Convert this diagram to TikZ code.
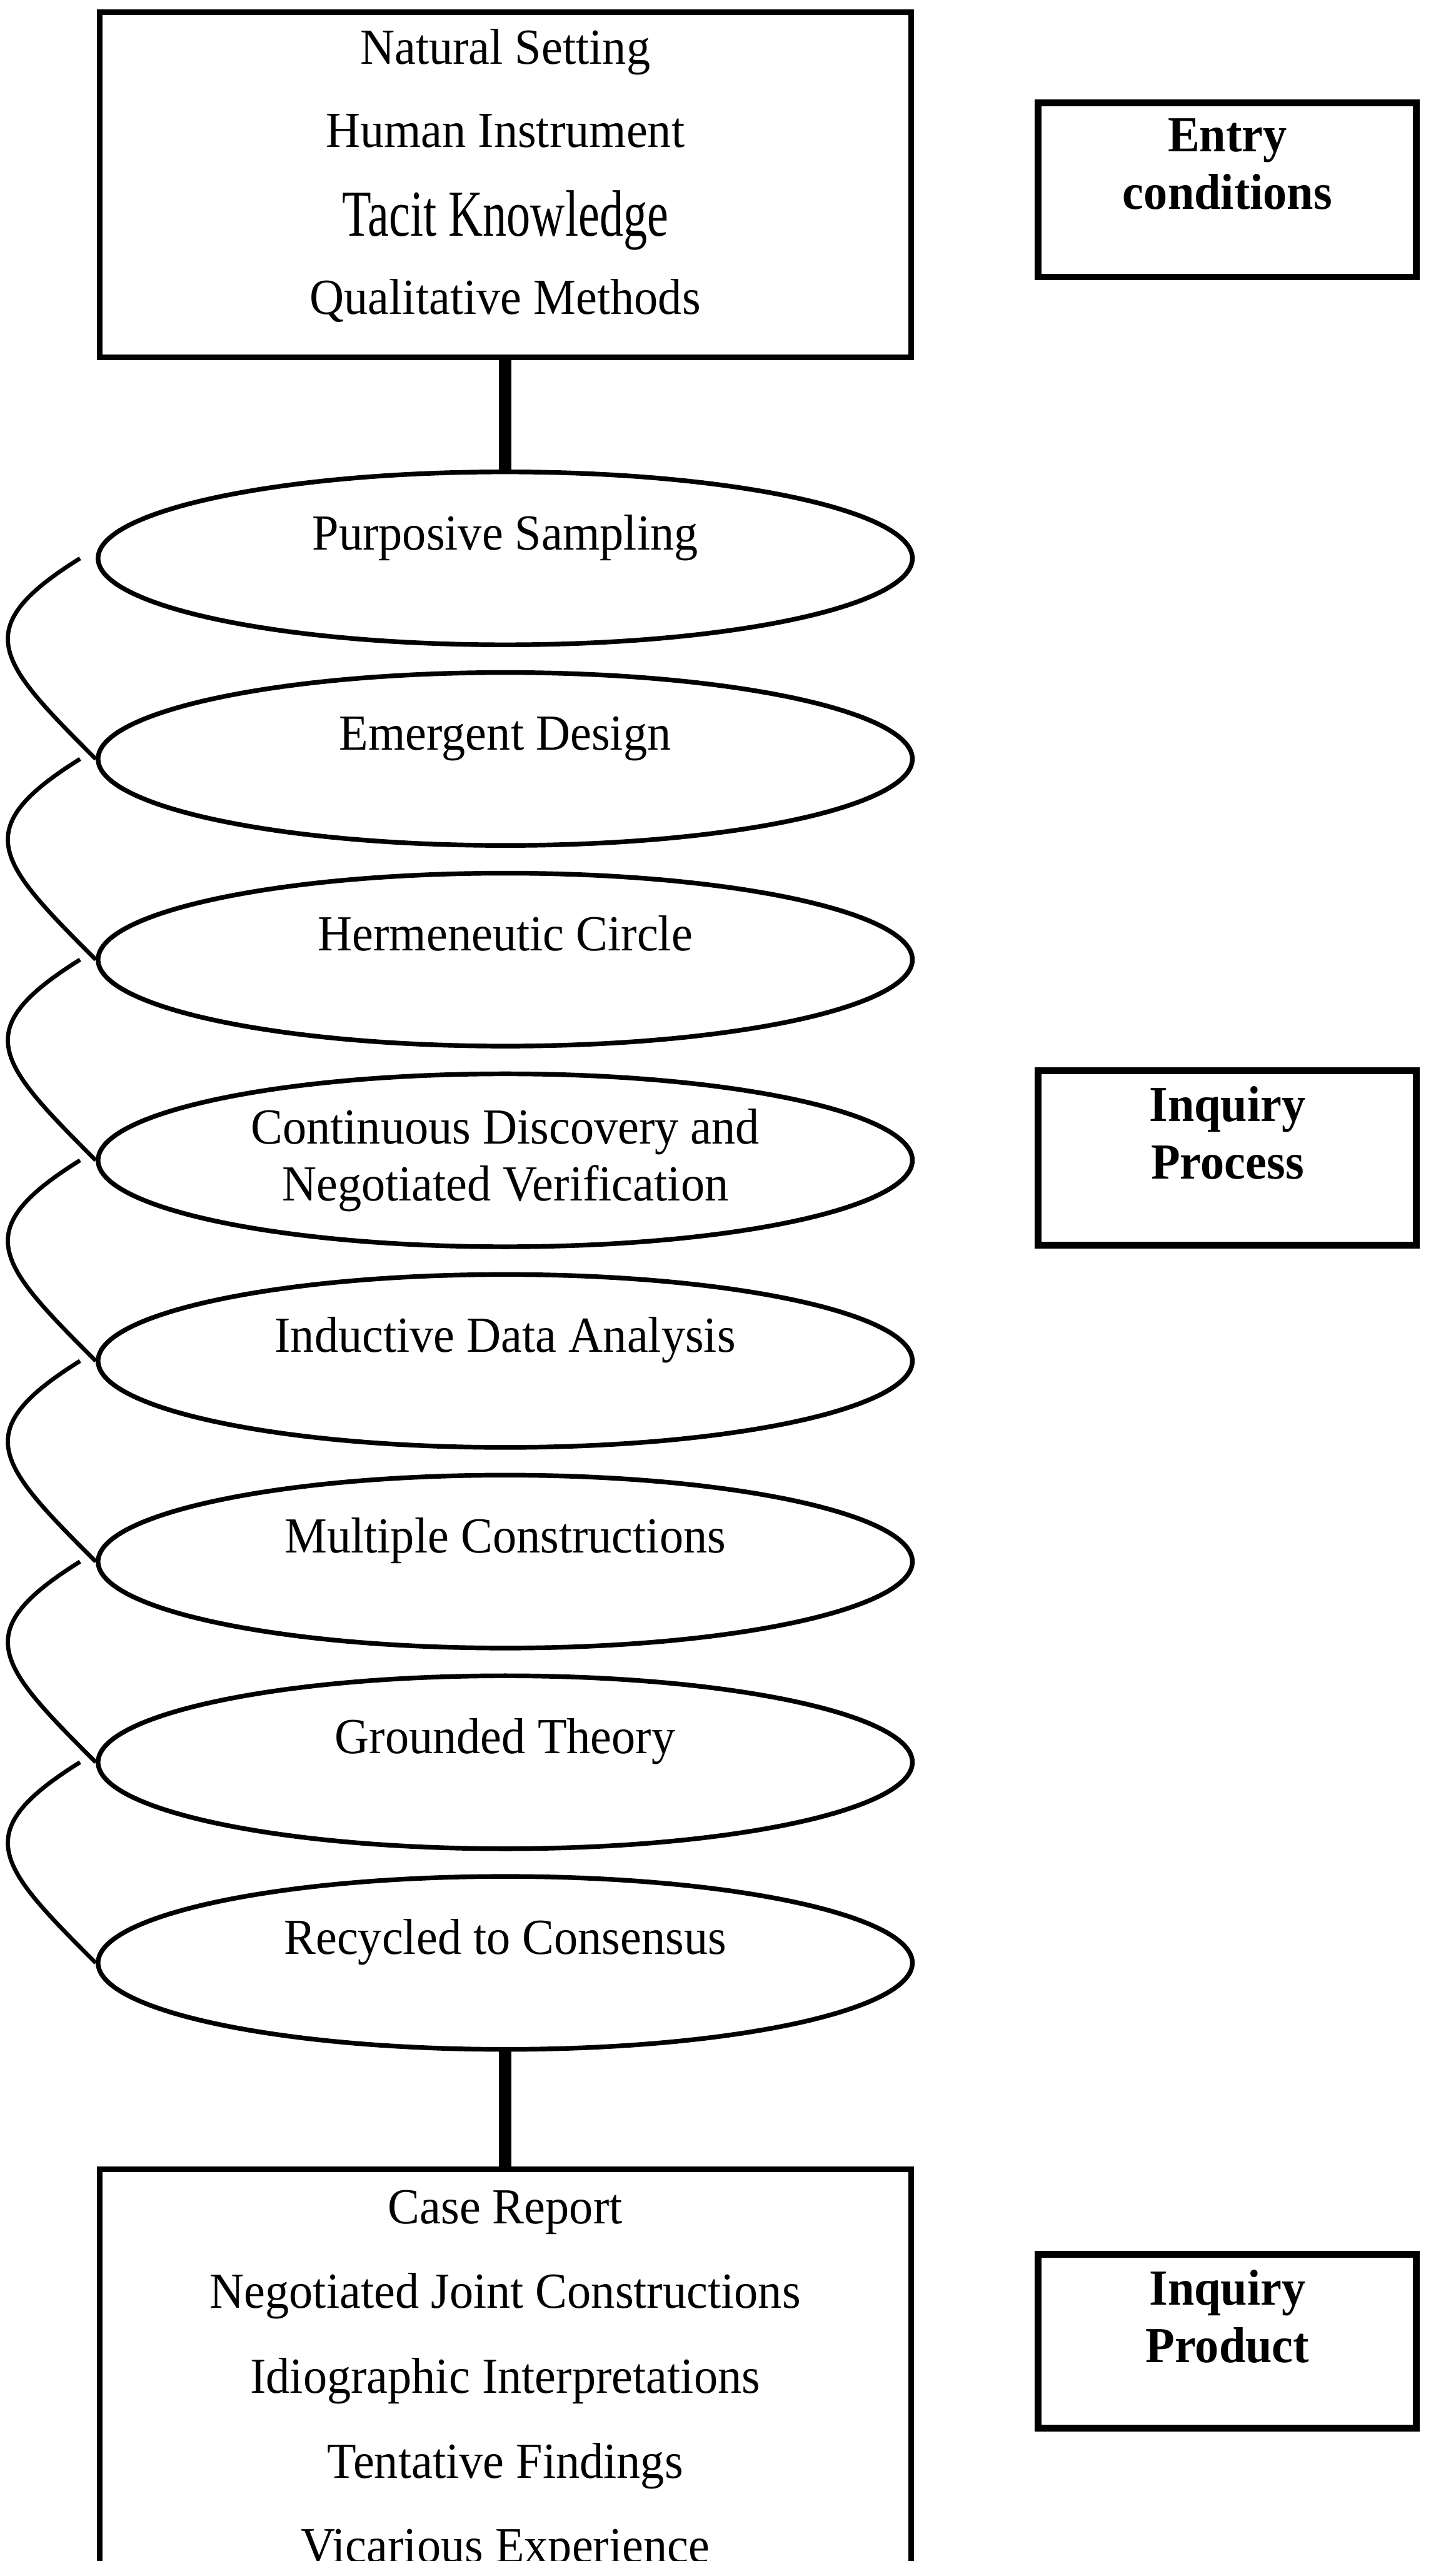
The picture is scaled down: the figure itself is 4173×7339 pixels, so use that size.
\documentclass[tikz,border=0pt]{standalone}
\usepackage{fontspec}
\setmainfont{Liberation Serif}[FakeStretch=0.945]
\usepackage{graphicx}
\usepackage{tikz}
\usetikzlibrary{shapes.geometric, positioning}

\newcommand{\bodysize}{\fontsize{20.6pt}{23.4pt}\selectfont}

\begin{document}
\begin{tikzpicture}[x=0.005cm, y=-0.005cm,
	every node/.style={font=\bodysize, inner sep=0pt},
	listbox/.style={rectangle, draw=black, line width=2.3pt, align=center, minimum width=11.64cm},
	stage/.style={ellipse, draw=black, line width=1.9pt, align=center, minimum width=11.68cm, minimum height=2.48cm},
	oneline/.style={text height=0.55cm, text depth=0.8cm},
	sidebox/.style={rectangle, draw=black, line width=2.8pt, minimum width=5.425cm, minimum height=2.5cm},
	sidetext/.style={align=center, font=\bodysize\bfseries},
	trunk/.style={draw=black, line width=5pt},
	coil/.style={draw=black, line width=1.7pt}]
			\useasboundingbox (0,0) rectangle (4173,7339);
			\clip (0,0) rectangle (4173,7339);
			
			\node[listbox, minimum height=4.95cm] (setting) at (1448,530) {Natural Setting\\[10.5pt]Human Instrument\\[12.9pt]\scalebox{1}[1.3]{Tacit Knowledge}\\[8.4pt]Qualitative Methods\rule[-11pt]{0pt}{0pt}};
			
			\node[stage, oneline] (sampling) at (1448,1600) {Purposive Sampling};
			\node[stage, oneline] (design) at (1448,2175) {Emergent Design};
			\node[stage, oneline] (circle) at (1448,2750) {Hermeneutic Circle};
			\node[stage] (discovery) at (1448,3325) {Continuous Discovery and\\Negotiated Verification};
			\node[stage, oneline] (analysis) at (1448,3900) {Inductive Data Analysis};
			\node[stage, oneline] (constructions) at (1448,4475) {Multiple Constructions};
			\node[stage, oneline] (theory) at (1448,5050) {Grounded Theory};
			\node[stage, oneline] (consensus) at (1448,5625) {Recycled to Consensus};
			
			\node[listbox, anchor=north, inner ysep=0.3cm] (report) at (1448,6208) {Case Report\\[11.2pt]Negotiated Joint Constructions\\[11.2pt]Idiographic Interpretations\\[11.2pt]Tentative Findings\\[11.2pt]Vicarious Experience};
			
			\node[sidebox] (entry) at (3518,544) {};
			\node[sidetext, below=0.27cm of entry.north] (entrytext) {Entry\\conditions};
			\node[sidebox] (process) at (3518,3318) {};
			\node[sidetext, below=0.27cm of process.north] (processtext) {Inquiry\\Process};
			\node[sidebox] (product) at (3518,6709) {};
			\node[sidetext, below=0.27cm of product.north] (producttext) {Inquiry\\Product};
			
			\coordinate (sampling-tail) at ([xshift=-0.225cm]sampling.west);
			\coordinate (design-tail) at ([xshift=-0.225cm]design.west);
			\coordinate (circle-tail) at ([xshift=-0.225cm]circle.west);
			\coordinate (discovery-tail) at ([xshift=-0.225cm]discovery.west);
			\coordinate (analysis-tail) at ([xshift=-0.225cm]analysis.west);
			\coordinate (constructions-tail) at ([xshift=-0.225cm]constructions.west);
			\coordinate (theory-tail) at ([xshift=-0.225cm]theory.west);
			
			\path[trunk] (setting.south) -- (sampling.north);
			\path[trunk] (consensus.south) -- (report.north);
			
			\path[coil] (sampling-tail) .. controls +(-322,201) and +(-283,-283) .. (design.west);
			\path[coil] (design-tail) .. controls +(-322,201) and +(-283,-283) .. (circle.west);
			\path[coil] (circle-tail) .. controls +(-322,201) and +(-283,-283) .. (discovery.west);
			\path[coil] (discovery-tail) .. controls +(-322,201) and +(-283,-283) .. (analysis.west);
			\path[coil] (analysis-tail) .. controls +(-322,201) and +(-283,-283) .. (constructions.west);
			\path[coil] (constructions-tail) .. controls +(-322,201) and +(-283,-283) .. (theory.west);
			\path[coil] (theory-tail) .. controls +(-322,201) and +(-283,-283) .. (consensus.west);
\end{tikzpicture}
\end{document}
